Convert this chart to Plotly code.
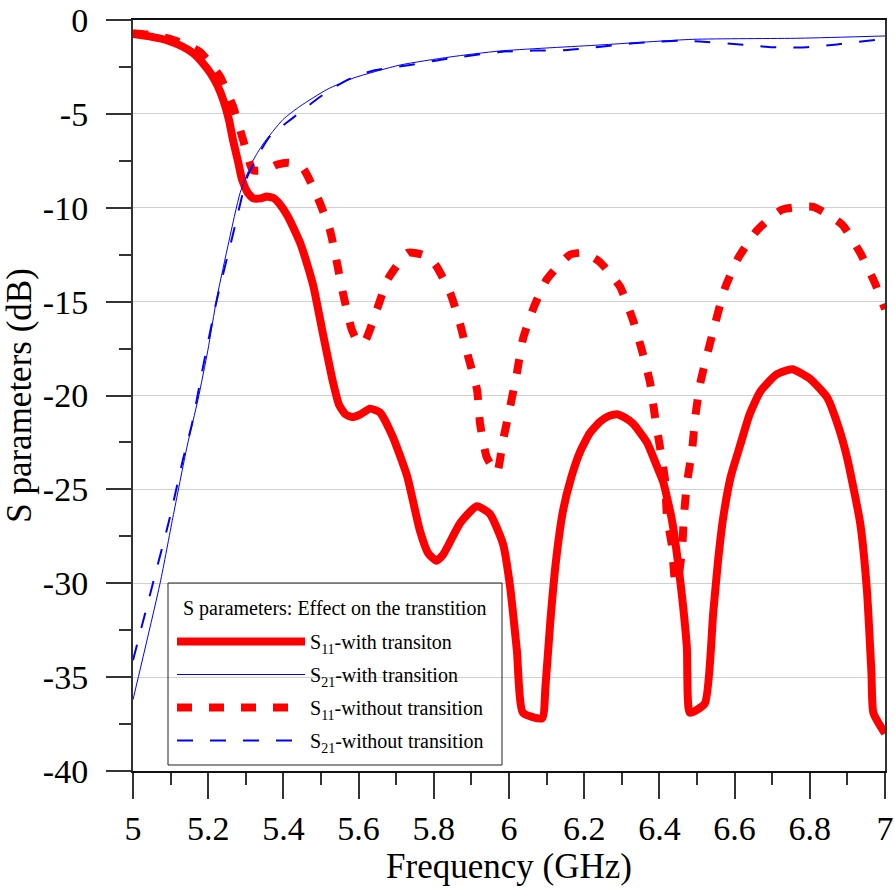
import plotly.graph_objects as go

# S11 with transition (solid red)
f_s11_with = [5.00, 5.05, 5.09, 5.13, 5.16, 5.19, 5.205, 5.225, 5.24, 5.255, 5.266, 5.28, 5.29, 5.305,
              5.32, 5.34, 5.356, 5.375, 5.39, 5.41, 5.425, 5.445, 5.463, 5.48, 5.505, 5.532,
              5.548, 5.565, 5.582, 5.605, 5.63, 5.657, 5.691, 5.729, 5.763, 5.785, 5.807, 5.824, 5.87, 5.914,
              5.949, 5.984, 6.003, 6.021, 6.037, 6.088, 6.097, 6.11, 6.125, 6.144, 6.165, 6.189,
              6.215, 6.242, 6.265, 6.287, 6.31, 6.33, 6.367, 6.394, 6.41, 6.433, 6.455, 6.473, 6.481,
              6.521, 6.543, 6.556, 6.569, 6.59, 6.614, 6.64, 6.668, 6.71, 6.753, 6.80, 6.846, 6.875, 6.899, 6.934,
              6.952, 6.964, 6.969, 7.00]
db_s11_with = [-0.75, -0.9, -1.07, -1.4, -1.77, -2.4, -2.8, -3.5, -4.26, -5.3, -6.4, -7.6, -8.5, -9.2,
               -9.5, -9.5, -9.4, -9.5, -9.8, -10.4, -11.0, -11.9, -13.0, -14.2, -16.7, -19.3,
               -20.5, -21.0, -21.15, -21.0, -20.7, -20.9, -22.2, -24.3, -27.2, -28.4, -28.8, -28.5, -26.8, -25.9,
               -26.3, -27.9, -30.2, -33.6, -36.9, -37.2, -35.5, -32.0, -28.8, -26.1, -24.4, -23.0,
               -22.0, -21.4, -21.1, -21.0, -21.2, -21.5, -22.5, -23.8, -24.6, -26.6, -29.8, -33.4, -36.9,
               -36.4, -31.6, -28.8, -26.6, -24.3, -22.7, -21.0, -19.8, -18.9, -18.6, -19.1, -20.1, -21.6, -23.3, -26.8,
               -30.4, -34.8, -36.9, -38.0]

# S21 with transition (thin solid blue)
f_s21_with = [5.00, 5.072, 5.106, 5.144, 5.173, 5.199, 5.223, 5.255, 5.285, 5.319, 5.346, 5.399,
              5.444, 5.516, 5.585, 5.71, 5.843, 5.976, 6.242, 6.489, 6.774, 7.00]
db_s21_with = [-36.2, -30.0, -26.5, -22.7, -20.2, -17.6, -14.8, -11.8, -9.2, -7.5, -6.6, -5.3,
               -4.6, -3.7, -3.1, -2.4, -1.97, -1.65, -1.33, -1.03, -0.97, -0.85]

# S11 without transition (dotted red)
f_s11_without = [5.00, 5.05, 5.098, 5.14, 5.178, 5.205, 5.231, 5.266, 5.293, 5.319, 5.35, 5.383,
                 5.415, 5.452, 5.492, 5.524, 5.543, 5.559, 5.582, 5.60, 5.617, 5.649, 5.678, 5.731,
                 5.77, 5.803, 5.843, 5.870, 5.891, 5.915, 5.923, 5.941, 5.968, 5.984, 6.003, 6.021,
                 6.037, 6.064, 6.101, 6.162, 6.20, 6.242, 6.295, 6.33, 6.355, 6.375, 6.388, 6.402,
                 6.415, 6.42, 6.434, 6.441, 6.447, 6.46, 6.465, 6.473, 6.487, 6.495, 6.508, 6.54,
                 6.574, 6.609, 6.66, 6.726, 6.809, 6.886, 6.934, 6.973, 7.00]
db_s11_without = [-0.7, -0.8, -1.0, -1.3, -1.7, -2.3, -3.0, -4.6, -6.4, -8.0, -8.0, -7.7,
                  -7.6, -7.9, -9.5, -11.2, -13.0, -14.6, -16.5, -17.2, -17.1, -15.4, -13.8, -12.4,
                  -12.5, -13.0, -14.5, -16.2, -17.9, -19.7, -21.5, -23.3, -24.1, -22.4, -20.6, -18.8,
                  -17.0, -15.4, -13.8, -12.5, -12.4, -12.9, -14.2, -16.0, -17.7, -19.3, -21.1, -22.8,
                  -24.5, -26.4, -28.1, -29.8, -30.0, -28.3, -26.5, -24.7, -22.9, -21.2, -19.4, -16.8,
                  -14.3, -12.7, -11.2, -10.1, -9.95, -10.9, -12.4, -14.0, -15.4]

# S21 without transition (dashed blue)
f_s21_without = [5.00, 5.053, 5.098, 5.133, 5.157, 5.186, 5.223, 5.266, 5.285, 5.303, 5.33, 5.364,
                 5.426, 5.497, 5.569, 5.638, 5.737, 5.824, 5.976, 6.066, 6.157, 6.33, 6.463, 6.508,
                 6.614, 6.702, 6.793, 6.872, 6.973, 7.00]
db_s21_without = [-34.1, -30.0, -26.5, -23.4, -21.5, -18.5, -14.9, -11.4, -9.8, -8.4, -7.3, -6.2,
                  -5.2, -4.1, -3.2, -2.7, -2.4, -2.1, -1.7, -1.63, -1.6, -1.24, -1.1, -1.15,
                  -1.3, -1.45, -1.45, -1.3, -1.06, -1.0]

x_ticks = [5, 5.2, 5.4, 5.6, 5.8, 6, 6.2, 6.4, 6.6, 6.8, 7]
x_tick_labels = ["5", "5.2", "5.4", "5.6", "5.8", "6", "6.2", "6.4", "6.6", "6.8", "7"]
y_ticks = [0, -5, -10, -15, -20, -25, -30, -35, -40]
y_tick_labels = ["0", "-5", "-10", "-15", "-20", "-25", "-30", "-35", "-40"]

names = ["S<sub>11</sub>-with transiton", "S<sub>21</sub>-with transition",
         "S<sub>11</sub>-without transition", "S<sub>21</sub>-without transition"]
legend_title = "S parameters: Effect on the transtition"

FONT = "Liberation Serif, Times New Roman, serif"

fig = go.Figure()
fig.add_trace(go.Scatter(x=f_s11_with, y=db_s11_with, mode="lines", name=names[0], legendgroup="a",
                         line=dict(color="#ff0000", width=8, shape="spline", smoothing=0.5)))
fig.add_trace(go.Scatter(x=f_s21_with, y=db_s21_with, mode="lines", name=names[1], legendgroup="b",
                         line=dict(color="#0000ff", width=1, shape="spline", smoothing=0.6)))
fig.add_trace(go.Scatter(x=f_s11_without, y=db_s11_without, mode="lines", name=names[2], legendgroup="c",
                         line=dict(color="#ff0000", width=8, dash="15px,17px", shape="spline", smoothing=0.5)))
fig.add_trace(go.Scatter(x=f_s21_without, y=db_s21_without, mode="lines", name=names[3], legendgroup="d",
                         line=dict(color="#0000ff", width=2, dash="16px,17px", shape="spline", smoothing=0.6)))

# plot area: x 133..885, y 20..771 (px)
def px_x(p):
    return (p - 133) / 752.0

def px_y(p):
    return (771 - p) / 751.0

fig.add_shape(type="rect", xref="paper", yref="paper",
              x0=px_x(168), x1=px_x(502), y0=px_y(765), y1=px_y(583),
              line=dict(color="#222", width=1), fillcolor="rgba(0,0,0,0)", layer="above")
fig.add_annotation(xref="paper", yref="paper", x=px_x(334), y=px_y(608),
                   text=legend_title, showarrow=False, xanchor="center", yanchor="middle",
                   font=dict(family=FONT, size=20, color="black"))

fig.update_layout(
    width=895, height=892,
    margin=dict(l=133, r=10, t=20, b=121, autoexpand=False),
    paper_bgcolor="white", plot_bgcolor="white",
    font=dict(family=FONT, color="black"),
    showlegend=True,
    legend=dict(
        x=px_x(172), y=px_y(622), xanchor="left", yanchor="top",
        bgcolor="rgba(0,0,0,0)", borderwidth=0,
        font=dict(family=FONT, size=20, color="black"),
        itemwidth=128, tracegroupgap=4,
    ),
    xaxis=dict(
        range=[5, 7], tickmode="array", tickvals=x_ticks, ticktext=x_tick_labels,
        showgrid=False, zeroline=False, automargin=False,
        showline=True, linecolor="#111", linewidth=2, mirror=True,
        ticks="outside", ticklen=26, tickwidth=1.5, tickcolor="#333",
        minor=dict(ticks="outside", ticklen=12, tickwidth=1.5, tickcolor="#333", dtick=0.1, showgrid=False),
        tickfont=dict(family=FONT, size=34, color="black"),
        ticklabelstandoff=0,
        title=dict(text="Frequency (GHz)", font=dict(family=FONT, size=35, color="black"), standoff=4),
    ),
    yaxis=dict(
        range=[-40, 0], tickmode="array", tickvals=y_ticks, ticktext=y_tick_labels,
        showgrid=True, gridcolor="#d0d0d0", gridwidth=1, zeroline=False, automargin=False,
        showline=True, linecolor="#333", linewidth=2, mirror=True,
        ticks="outside", ticklen=25, tickwidth=1.5, tickcolor="#333",
        minor=dict(ticks="outside", ticklen=12, tickwidth=1.5, tickcolor="#333", dtick=2.5, showgrid=False),
        tickfont=dict(family=FONT, size=34, color="black"),
        ticklabelstandoff=11,
        title=dict(text="S parameters (dB)", font=dict(family=FONT, size=35, color="black"), standoff=6),
    ),
)

fig.write_html("out.html", config={"displayModeBar": False},
               post_script="document.body.style.margin='0';")
